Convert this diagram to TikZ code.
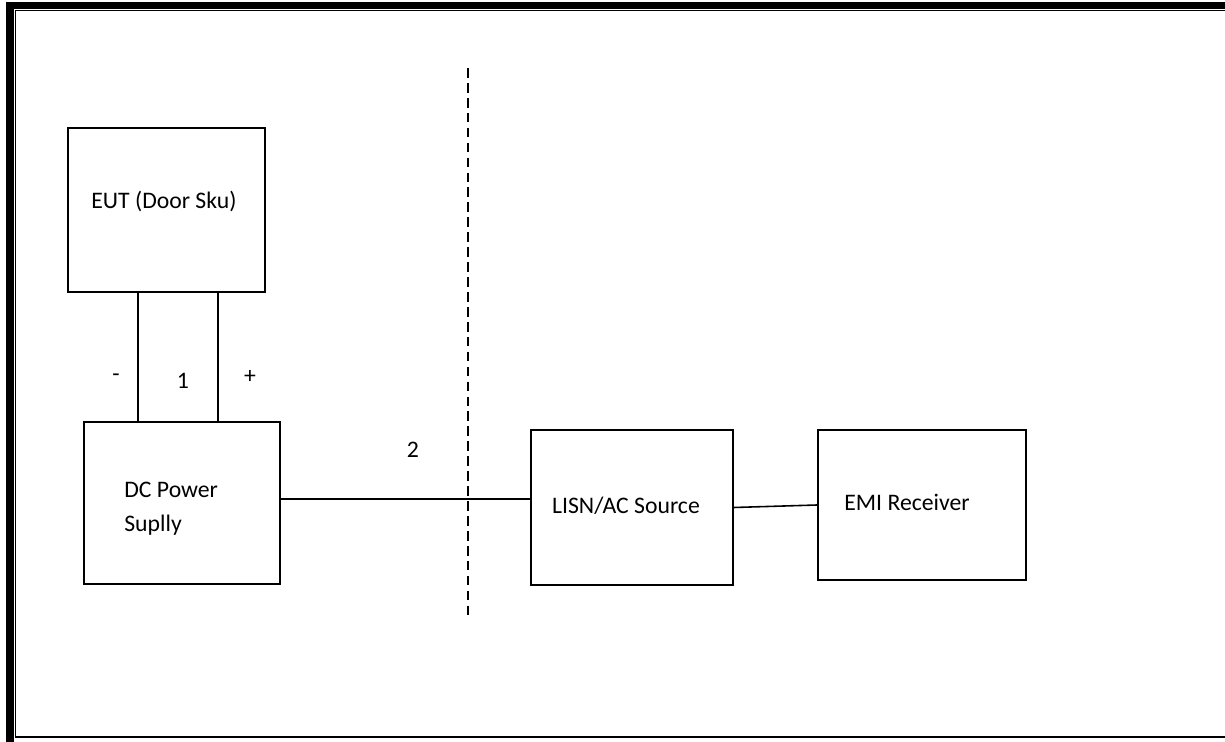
\documentclass[tikz,border=0pt]{standalone}
\usepackage{fontspec}
\setmainfont{Carlito}
\usetikzlibrary{calc}

\begin{document}
\begin{tikzpicture}[x=0.02cm, y=-0.02cm,
    box/.style={draw, line width=1pt, inner sep=0pt},
    wire/.style={line width=0.9pt},
    lbl/.style={font=\fontsize{13.5}{16}\selectfont, inner sep=0pt}]

    \useasboundingbox (0,0) rectangle (1225,742);
    \clip (0,0) rectangle (1225,742);

    % Frame
    \draw[line width=4pt] (10,5.5) rectangle (1245,745.5);
    \draw[line width=1.1pt] (15.5,10.5) rectangle (1235,737);

    % Boxes
    \node[box, minimum width=3.94cm, minimum height=3.28cm] (eut) at (166.5,210) {};
    \node[box, minimum width=3.92cm, minimum height=3.24cm] (dc) at (182,503) {};
    \node[box, minimum width=4.04cm, minimum height=3.10cm] (lisn) at (632,507.5) {};
    \node[box, minimum width=4.16cm, minimum height=3.00cm] (emi) at (922,505) {};

    % Texts
    \node[lbl, anchor=west] (eutname) at (91,201) {EUT (Door Sku)};
    \node[lbl, anchor=west] (dcname1) at (124,490) {DC Power};
    \node[lbl, anchor=west] (dcname2) at (124,525) {Suplly};
    \node[lbl] (lisnname) at (626,506) {LISN/AC Source};
    \node[lbl, anchor=west] (eminame) at (844,502) {EMI Receiver};

    \node[lbl] (minus) at (116,378) {-};
    \node[lbl] (one) at (183,381) {1};
    \node[lbl] (plus) at (250,377) {+};
    \node[lbl] (two) at (413,450) {2};

    % Wires
    \coordinate (neg) at (138,0);
    \coordinate (pos) at (218,0);
    \coordinate (feed) at (0,499);
    \draw[wire] (eut.south -| neg) -- (dc.north -| neg);
    \draw[wire] (eut.south -| pos) -- (dc.north -| pos);
    \draw[wire] (dc.east |- feed) -- (lisn.west |- feed);
    \draw[wire] (lisn.east) -- (emi.west);

    % Divider
    \coordinate (divtop) at (468,68);
    \coordinate (divbot) at (468,616);
    \draw[line width=0.9pt, dash pattern=on 5.5pt off 3pt] (divtop) -- (divbot);
\end{tikzpicture}
\end{document}
